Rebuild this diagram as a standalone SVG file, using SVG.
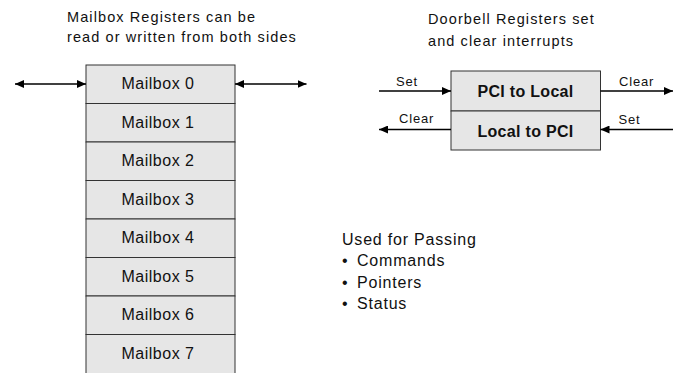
<svg xmlns="http://www.w3.org/2000/svg" width="683" height="373" viewBox="0 0 683 373">
<style>
text{font-family:"Liberation Sans",Arial,sans-serif;fill:#111}
.title{font-size:14.5px;letter-spacing:1.1px}
.mb{font-size:16px;letter-spacing:0.5px;text-anchor:middle}
.db{font-size:16px;font-weight:bold;letter-spacing:0.3px;text-anchor:middle}
.lbl{font-size:13px;letter-spacing:0.8px}
.list{font-size:16px;letter-spacing:0.8px}
.box{fill:#e6e6e6;stroke:#333;stroke-width:1}
.conn{stroke:#000;fill:none}
</style>
<defs>
<marker id="ah" markerUnits="userSpaceOnUse" markerWidth="10" markerHeight="8" refX="9" refY="4" orient="auto-start-reverse">
<path d="M0,0 L9,4 L0,8 Z" fill="#000"/>
</marker>
</defs>
<g id="titles">
<text class="title" x="67" y="22">Mailbox Registers can be</text>
<text class="title" x="67" y="42">read or written from both sides</text>
<text class="title" x="428" y="24">Doorbell Registers set</text>
<text class="title" x="428" y="46">and clear interrupts</text>
</g>
<g id="mailbox0"><rect class="box" x="86" y="65" width="149" height="38.5"/><text class="mb" x="158" y="89">Mailbox 0</text></g>
<g id="mailbox1"><rect class="box" x="86" y="103.5" width="149" height="38.5"/><text class="mb" x="158" y="127.5">Mailbox 1</text></g>
<g id="mailbox2"><rect class="box" x="86" y="142" width="149" height="38.5"/><text class="mb" x="158" y="166">Mailbox 2</text></g>
<g id="mailbox3"><rect class="box" x="86" y="180.5" width="149" height="38.5"/><text class="mb" x="158" y="204.5">Mailbox 3</text></g>
<g id="mailbox4"><rect class="box" x="86" y="219" width="149" height="38.5"/><text class="mb" x="158" y="243">Mailbox 4</text></g>
<g id="mailbox5"><rect class="box" x="86" y="257.5" width="149" height="38.5"/><text class="mb" x="158" y="281.5">Mailbox 5</text></g>
<g id="mailbox6"><rect class="box" x="86" y="296" width="149" height="38.5"/><text class="mb" x="158" y="320">Mailbox 6</text></g>
<g id="mailbox7"><rect class="box" x="86" y="334.5" width="149" height="45"/><text class="mb" x="158" y="358.5">Mailbox 7</text></g>
<g id="pci-to-local"><rect class="box" x="451" y="71" width="149.5" height="40"/><text class="db" x="525.5" y="96.5">PCI to Local</text></g>
<g id="local-to-pci"><rect class="box" x="451" y="111" width="149.5" height="39"/><text class="db" x="525.5" y="136.5">Local to PCI</text></g>
<g id="connectors">
<line class="conn" stroke-width="1.3" x1="15" y1="84" x2="86" y2="84" marker-start="url(#ah)" marker-end="url(#ah)"/>
<line class="conn" stroke-width="1.3" x1="235" y1="84" x2="306.5" y2="84" marker-start="url(#ah)" marker-end="url(#ah)"/>
<line class="conn" stroke-width="1.5" x1="379" y1="91" x2="451" y2="91" marker-end="url(#ah)"/>
<line class="conn" stroke-width="1.5" x1="600.5" y1="91" x2="673" y2="91" marker-end="url(#ah)"/>
<line class="conn" stroke-width="1.5" x1="451" y1="129.5" x2="379" y2="129.5" marker-end="url(#ah)"/>
<line class="conn" stroke-width="1.5" x1="673" y1="129.5" x2="600.5" y2="129.5" marker-end="url(#ah)"/>
<text class="lbl" x="396" y="86">Set</text>
<text class="lbl" x="619" y="86">Clear</text>
<text class="lbl" x="399" y="123">Clear</text>
<text class="lbl" x="618.5" y="123.5">Set</text>
</g>
<g id="notes">
<text class="list" x="342" y="245">Used for Passing</text>
<text class="list" x="342" y="266">•</text><text class="list" x="357" y="266">Commands</text>
<text class="list" x="342" y="287.5">•</text><text class="list" x="357" y="287.5">Pointers</text>
<text class="list" x="342" y="309">•</text><text class="list" x="357" y="309">Status</text>
</g>
</svg>
